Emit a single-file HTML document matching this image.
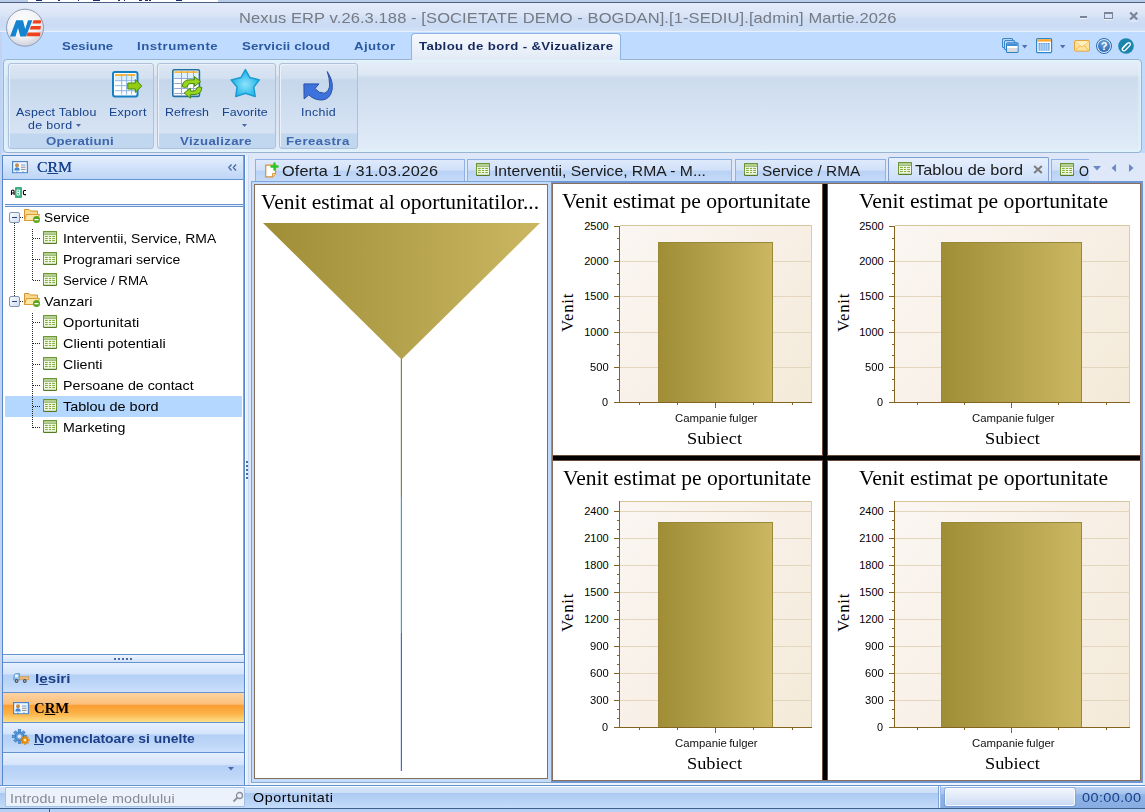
<!DOCTYPE html>
<html><head><meta charset="utf-8"><title>Nexus ERP</title>
<style>
*{box-sizing:border-box;margin:0;padding:0}
html,body{width:1145px;height:812px;overflow:hidden}
body{position:relative;background:#bfdbff;font-family:"Liberation Sans",sans-serif;font-size:13px;color:#000}
.a{position:absolute}
.t{position:absolute;white-space:nowrap;line-height:1}
svg{display:block;overflow:visible}
</style></head><body>
<div class="a" style="left:0;top:0;width:1145px;height:3px;background:#b9cde9"></div>
<div class="a" style="left:28px;top:0;width:190px;height:2px;background:#fff"></div>
<div class="a" style="left:36.3px;top:0;width:5.7px;height:1px;background:#1b2d70"></div><div class="a" style="left:57.9px;top:0;width:2.3px;height:1px;background:#1b2d70"></div><div class="a" style="left:78.3px;top:0;width:1.2px;height:1px;background:#1b2d70"></div><div class="a" style="left:93px;top:0;width:7.0px;height:1px;background:#1b2d70"></div><div class="a" style="left:118px;top:0;width:2.3px;height:1px;background:#1b2d70"></div><div class="a" style="left:123.8px;top:0;width:1.2px;height:1px;background:#1b2d70"></div><div class="a" style="left:138.5px;top:0;width:3.5px;height:1px;background:#1b2d70"></div><div class="a" style="left:145.3px;top:0;width:2.3px;height:1px;background:#1b2d70"></div><div class="a" style="left:148.7px;top:0;width:2.3px;height:1px;background:#1b2d70"></div><div class="a" style="left:176px;top:0;width:5.7px;height:1px;background:#1b2d70"></div>
<div class="a" style="left:0;top:2px;width:1145px;height:1px;background:#4d5f80"></div>
<div class="a" style="left:0;top:3px;width:1145px;height:29px;background:linear-gradient(#e4ecf9 0,#dae5f6 40%,#cfdef4 55%,#cadbf4 80%,#d4e3f8 100%)"></div>
<div class="t" style="left:239.2px;top:10px;font-size:15px;color:#757a83;letter-spacing:0.091px;transform:scaleX(1.1000);transform-origin:0 0;">Nexus ERP v.26.3.188 - [SOCIETATE DEMO - BOGDAN].[1-SEDIU].[admin] Martie.2026</div>
<div class="a" style="left:1080px;top:16px;width:7px;height:2px;background:#7a859b;box-shadow:0 1px 0 #edf2fa"></div>
<div class="a" style="left:1104px;top:12px;width:9px;height:7px;border:1px solid #7a859b;border-top-width:2px;box-shadow:0 1px 0 #edf2fa"></div>
<svg class="a" style="left:1129px;top:12px" width="10" height="9"><path d="M1 9L9 9" stroke="#edf2fa" stroke-width="1"/><path d="M1.2 .5L8.2 7.5M8.2 .5L1.2 7.5" stroke="#7a859b" stroke-width="2.2"/></svg>
<div class="a" style="left:0;top:31px;width:1145px;height:1px;background:#e9f0fb"></div>
<div class="a" style="left:0;top:32px;width:1145px;height:28px;background:#bfdbff"></div>
<div class="t" style="left:61.9px;top:41px;font-size:11.3px;font-weight:bold;color:#2c5aa0;letter-spacing:0.062px;transform:scaleX(1.1700);transform-origin:0 0;">Sesiune</div>
<div class="t" style="left:136.9px;top:41px;font-size:11.3px;font-weight:bold;color:#2c5aa0;letter-spacing:0.426px;transform:scaleX(1.1700);transform-origin:0 0;">Instrumente</div>
<div class="t" style="left:241.9px;top:41px;font-size:11.3px;font-weight:bold;color:#2c5aa0;letter-spacing:0.143px;transform:scaleX(1.1700);transform-origin:0 0;">Servicii cloud</div>
<div class="t" style="left:354.4px;top:41px;font-size:11.3px;font-weight:bold;color:#2c5aa0;letter-spacing:0.378px;transform:scaleX(1.1700);transform-origin:0 0;">Ajutor</div>
<div class="a" style="left:3px;top:59px;width:1139px;height:94px;border:1px solid #9ab3cf;border-radius:4px;box-shadow:inset 0 0 3px 2px rgba(222,243,252,.95);background:linear-gradient(#e6edf8 0,#dde7f4 16%,#cddbee 19%,#d3e0f1 45%,#e2ecf9 100%)"></div>
<div class="a" style="left:411px;top:33px;width:210px;height:27px;border:1px solid #8db2e3;border-bottom:none;border-radius:4px 4px 0 0;background:linear-gradient(#f6f9fe,#e1eaf6)"></div>
<div class="t" style="left:418.9px;top:41px;font-size:11.3px;font-weight:bold;color:#15295c;letter-spacing:0.314px;transform:scaleX(1.1700);transform-origin:0 0;">Tablou de bord - &amp;Vizualizare</div>
<div class="a" style="left:8px;top:63px;width:146px;height:86px;border:1px solid #adc1db;border-radius:3px;background:linear-gradient(#dde7f4 0,#d3e0f0 17%,#c6d7eb 19%,#d6e3f4 82.5%,#c1d7f0 83%,#c1d7f0 100%);box-shadow:inset 1px 1px 0 #eaf1fa"></div>
<div class="t" style="left:46.4px;top:136px;font-size:11.3px;font-weight:bold;color:#3e66ad;letter-spacing:0.145px;transform:scaleX(1.1700);transform-origin:0 0;">Operatiuni</div>
<div class="a" style="left:157px;top:63px;width:119px;height:86px;border:1px solid #adc1db;border-radius:3px;background:linear-gradient(#dde7f4 0,#d3e0f0 17%,#c6d7eb 19%,#d6e3f4 82.5%,#c1d7f0 83%,#c1d7f0 100%);box-shadow:inset 1px 1px 0 #eaf1fa"></div>
<div class="t" style="left:180.1px;top:136px;font-size:11.3px;font-weight:bold;color:#3e66ad;letter-spacing:0.310px;transform:scaleX(1.1700);transform-origin:0 0;">Vizualizare</div>
<div class="a" style="left:279px;top:63px;width:79px;height:86px;border:1px solid #adc1db;border-radius:3px;background:linear-gradient(#dde7f4 0,#d3e0f0 17%,#c6d7eb 19%,#d6e3f4 82.5%,#c1d7f0 83%,#c1d7f0 100%);box-shadow:inset 1px 1px 0 #eaf1fa"></div>
<div class="t" style="left:286.2px;top:136px;font-size:11.3px;font-weight:bold;color:#3e66ad;letter-spacing:0.407px;transform:scaleX(1.1700);transform-origin:0 0;">Fereastra</div>
<div class="t" style="left:15.9px;top:107px;font-size:11.3px;color:#15428b;letter-spacing:0.188px;transform:scaleX(1.1000);transform-origin:0 0;">Aspect Tablou</div>
<div class="t" style="left:27.9px;top:120px;font-size:11.3px;color:#15428b;letter-spacing:0.313px;transform:scaleX(1.1000);transform-origin:0 0;">de bord</div>
<div class="t" style="left:109.1px;top:107px;font-size:11.3px;color:#15428b;letter-spacing:0.274px;transform:scaleX(1.1000);transform-origin:0 0;">Export</div>
<div class="t" style="left:164.8px;top:107px;font-size:11.3px;color:#15428b;letter-spacing:0.062px;transform:scaleX(1.1000);transform-origin:0 0;">Refresh</div>
<div class="t" style="left:222.0px;top:107px;font-size:11.3px;color:#15428b;letter-spacing:0.109px;transform:scaleX(1.1000);transform-origin:0 0;">Favorite</div>
<div class="t" style="left:301.2px;top:107px;font-size:11.3px;color:#15428b;letter-spacing:0.283px;transform:scaleX(1.1000);transform-origin:0 0;">Inchid</div>
<svg class="a" style="left:76px;top:124px" width="6" height="4"><path d="M0 0H5L2.5 3Z" fill="#4a6aa5"/></svg>
<svg class="a" style="left:242px;top:124px" width="6" height="4"><path d="M0 0H5L2.5 3Z" fill="#4a6aa5"/></svg>
<div class="a" style="left:0;top:153px;width:1145px;height:633px;background:#dfe8f9"></div>
<div class="a" style="left:0;top:32px;width:2px;height:780px;background:#c4d2f2"></div>
<div class="a" style="left:2px;top:155px;width:243px;height:631px;border:1px solid #5787cb;background:#fff"></div>
<div class="a" style="left:243px;top:156px;width:1px;height:629px;background:#7ba3df"></div>
<div class="a" style="left:3px;top:156px;width:240px;height:24px;background:linear-gradient(#e4effd 0,#d3e3fa 45%,#bdd5f6 100%);border-bottom:1px solid #6593cf"></div>
<div class="t" style="left:37.0px;top:160px;font-size:15px;font-family:'Liberation Serif',serif;color:#15428b;transform:scaleX(1.0517);transform-origin:0 0;text-shadow:0 0 .4px #15428b;">C<u>R</u>M</div>
<svg class="a" style="left:228px;top:164px" width="9" height="7"><path d="M3.5 .5L.8 3.5L3.5 6.5M8 .5L5.3 3.5L8 6.5" fill="none" stroke="#44659e" stroke-width="1.2"/></svg>
<div class="a" style="left:5px;top:204px;width:238px;height:3px;border-top:1px solid #6593cf;border-bottom:1px solid #6593cf;background:#e4eefb"></div>
<div class="a" style="left:5px;top:396px;width:237px;height:21px;background:#b3d7ff"></div>
<div class="t" style="left:44.3px;top:211px;font-size:13.2px;color:#000;transform:scaleX(1.0395);transform-origin:0 0;">Service</div>
<div class="t" style="left:62.8px;top:232px;font-size:13.2px;color:#000;transform:scaleX(1.0559);transform-origin:0 0;">Interventii, Service, RMA</div>
<div class="t" style="left:62.8px;top:253px;font-size:13.2px;color:#000;transform:scaleX(1.0601);transform-origin:0 0;">Programari service</div>
<div class="t" style="left:62.8px;top:274px;font-size:13.2px;color:#000;transform:scaleX(1.0064);transform-origin:0 0;">Service / RMA</div>
<div class="t" style="left:43.8px;top:295px;font-size:13.2px;color:#000;letter-spacing:0.047px;transform:scaleX(1.1000);transform-origin:0 0;">Vanzari</div>
<div class="t" style="left:62.8px;top:316px;font-size:13.2px;color:#000;letter-spacing:0.109px;transform:scaleX(1.1000);transform-origin:0 0;">Oportunitati</div>
<div class="t" style="left:62.8px;top:337px;font-size:13.2px;color:#000;letter-spacing:0.011px;transform:scaleX(1.1000);transform-origin:0 0;">Clienti potentiali</div>
<div class="t" style="left:62.8px;top:358px;font-size:13.2px;color:#000;transform:scaleX(1.0754);transform-origin:0 0;">Clienti</div>
<div class="t" style="left:62.8px;top:379px;font-size:13.2px;color:#000;transform:scaleX(1.0798);transform-origin:0 0;">Persoane de contact</div>
<div class="t" style="left:62.8px;top:400px;font-size:13.2px;color:#000;transform:scaleX(1.0948);transform-origin:0 0;">Tablou de bord</div>
<div class="t" style="left:62.8px;top:421px;font-size:13.2px;color:#000;transform:scaleX(1.0762);transform-origin:0 0;">Marketing</div>
<div class="a" style="left:3px;top:654px;width:241px;height:8px;border-top:1px solid #6593cf;background:linear-gradient(#eef4fd,#d3e2f8)"></div>
<div class="a" style="left:114px;top:658px;width:18px;height:2px;background:repeating-linear-gradient(90deg,#4a6aa5 0,#4a6aa5 2px,transparent 2px,transparent 4px)"></div>
<div class="a" style="left:3px;top:662px;width:241px;height:31px;border-top:1px solid #6593cf;background:linear-gradient(#e6f0fe 0,#d5e4fb 36%,#b4d0f6 40%,#bdd6f8 70%,#cde1fb 100%)"></div>
<div class="a" style="left:3px;top:692px;width:241px;height:31px;border-top:1px solid #6593cf;background:linear-gradient(#fcd3a2 0,#fbc07a 37%,#fa9d31 42%,#fcb54b 70%,#fee48e 100%)"></div>
<div class="a" style="left:3px;top:722px;width:241px;height:31px;border-top:1px solid #6593cf;background:linear-gradient(#e6f0fe 0,#d5e4fb 36%,#b4d0f6 40%,#bdd6f8 70%,#cde1fb 100%)"></div>
<div class="a" style="left:3px;top:752px;width:241px;height:33px;border-top:1px solid #6593cf;background:linear-gradient(#e6f0fe 0,#d5e4fb 36%,#b4d0f6 40%,#bdd6f8 70%,#cde1fb 100%)"></div>
<div class="t" style="left:34.9px;top:672px;font-size:13px;font-weight:bold;color:#1c3f87;transform:scaleX(1.1687);transform-origin:0 0;">I<u>e</u>siri</div>
<div class="t" style="left:34.0px;top:701px;font-size:15px;font-family:'Liberation Serif',serif;font-weight:bold;color:#000;transform:scaleX(0.9816);transform-origin:0 0;">C<u>R</u>M</div>
<div class="t" style="left:34.4px;top:732px;font-size:13px;font-weight:bold;color:#1c3f87;transform:scaleX(1.0700);transform-origin:0 0;"><u>N</u>omenclatoare si unelte</div>
<svg class="a" style="left:228px;top:767px" width="6" height="4"><path d="M0 0H6L3 3.5Z" fill="#4a6aa5"/></svg>
<div class="a" style="left:245px;top:155px;width:1.3px;height:630px;background:#fbfdff"></div>
<div class="a" style="left:246.3px;top:155px;width:2px;height:630px;background:#e8effb"></div>
<div class="a" style="left:248.2px;top:155px;width:.9px;height:630px;background:#c9dcf6"></div>
<div class="a" style="left:246px;top:461px;width:2px;height:19px;background:repeating-linear-gradient(#4a6aa5 0,#4a6aa5 1.5px,#fff 1.5px,#fff 2.2px,transparent 2.2px,transparent 4.08px)"></div>
<div class="a" style="left:255px;top:159px;width:209.5px;height:23px;border:1px solid #8db2e3;border-bottom:none;background:linear-gradient(#dfeafb 0,#d1e1f9 45%,#b9d2f5 52%,#c6dbf8 100%)"></div>
<div class="a" style="left:466.5px;top:159px;width:265.5px;height:23px;border:1px solid #8db2e3;border-bottom:none;background:linear-gradient(#dfeafb 0,#d1e1f9 45%,#b9d2f5 52%,#c6dbf8 100%)"></div>
<div class="a" style="left:734.5px;top:159px;width:151.0px;height:23px;border:1px solid #8db2e3;border-bottom:none;background:linear-gradient(#dfeafb 0,#d1e1f9 45%,#b9d2f5 52%,#c6dbf8 100%)"></div>
<div class="a" style="left:1051px;top:159px;width:38px;height:23px;border:1px solid #8db2e3;border-bottom:none;border-right:none;background:linear-gradient(#dfeafb 0,#d1e1f9 45%,#b9d2f5 52%,#c6dbf8 100%)"></div>
<div class="a" style="left:251px;top:181px;width:892px;height:602px;border-top:1px solid #7ea3d8;border-left:1px solid #7ea3d8;border-bottom:1px solid #8aa6cc;background:#c1dbfc"></div>
<div class="a" style="left:250px;top:783px;width:893px;height:2px;background:#eef5fe"></div>
<div class="a" style="left:887.5px;top:157px;width:161.5px;height:25px;border:1px solid #7f9fd0;border-bottom:none;border-radius:2px 2px 0 0;background:linear-gradient(#e6effc,#d6e5fa 60%,#cbdef9)"></div>
<div class="t" style="left:282.0px;top:164px;font-size:14.8px;color:#1a1a1a;letter-spacing:0.102px;transform:scaleX(1.1000);transform-origin:0 0;">Oferta 1 / 31.03.2026</div>
<div class="t" style="left:493.8px;top:164px;font-size:14.8px;color:#1a1a1a;transform:scaleX(1.0609);transform-origin:0 0;">Interventii, Service, RMA - M...</div>
<div class="t" style="left:761.6px;top:164px;font-size:14.8px;color:#1a1a1a;transform:scaleX(1.0383);transform-origin:0 0;">Service / RMA</div>
<div class="t" style="left:914.6px;top:163px;font-size:14.8px;color:#1a1a1a;letter-spacing:0.020px;transform:scaleX(1.1000);transform-origin:0 0;">Tablou de bord</div>
<div class="t" style="left:1078.8px;top:164px;font-size:14.8px;color:#1a1a1a;transform:scaleX(0.8600);transform-origin:0 0;">O</div>
<svg class="a" style="left:1033px;top:165px" width="10" height="9"><path d="M1.2 1L8.8 8M8.8 1L1.2 8" stroke="#7d7d7d" stroke-width="2.1"/></svg>
<svg class="a" style="left:1093px;top:166px" width="8" height="5"><path d="M0 0H8L4 4.5Z" fill="#6a8ac4"/></svg>
<svg class="a" style="left:1111px;top:164px" width="5" height="8"><path d="M5 0V8L.5 4Z" fill="#6a8ac4"/></svg>
<svg class="a" style="left:1129px;top:164px" width="5" height="8"><path d="M0 0V8L4.5 4Z" fill="#6a8ac4"/></svg>
<div class="a" style="left:254px;top:184px;width:294px;height:595px;background:#fff;border:1px solid #8a6e5c"></div>
<div class="t" style="left:261.0px;top:192px;font-size:20.3px;font-family:'Liberation Serif',serif;color:#000;transform:scaleX(1.0592);transform-origin:0 0;">Venit estimat al oportunitatilor...</div>
<svg class="a" style="left:254px;top:184px" width="294" height="595"><defs><linearGradient id="fg" x1="0" x2="1"><stop offset="0" stop-color="#a08e37"/><stop offset=".5" stop-color="#b5a24c"/><stop offset="1" stop-color="#cbb762"/></linearGradient></defs><polygon points="9,39 286,39 147.5,175.5" fill="url(#fg)"/><rect x="146.8" y="175" width="1.2" height="138" fill="#6f8a5a"/><rect x="146.8" y="313" width="1.2" height="136" fill="#4f9ab8"/><rect x="146.8" y="449" width="1.2" height="138" fill="#4a66c8"/></svg>
<div class="a" style="left:550.5px;top:181px;width:592.5px;height:601.5px;background:#6c97d4"></div>
<div class="a" style="left:552px;top:183px;width:589px;height:598px;background:#8a6e5c"></div>
<div class="a" style="left:553px;top:184px;width:587px;height:596px;background:#fff"></div>
<div class="a" style="left:822px;top:184px;width:6px;height:596px;background:#000;border-left:1px solid #6a4a3a;border-right:1px solid #6a4a3a"></div>
<div class="a" style="left:553px;top:455px;width:587px;height:6px;background:#000;border-top:1px solid #6a4a3a;border-bottom:1px solid #6a4a3a"></div>
<div class="a" style="left:823px;top:455px;width:4px;height:6px;background:#000"></div>
<div class="t" style="left:562.3px;top:191px;font-size:20.3px;font-family:'Liberation Serif',serif;color:#000;transform:scaleX(1.0632);transform-origin:0 0;">Venit estimat pe oportunitate</div>
<div class="a" style="left:620px;top:225px;width:192px;height:177px;background:linear-gradient(125deg,#fbf6f2 0,#f8f0e7 50%,#f3ead8 100%);border-top:1px solid #d8c49a;border-right:1px solid #dccba8"></div>
<div class="a" style="left:620px;top:261px;width:192px;height:1px;background:#e4d6bd"></div>
<div class="a" style="left:620px;top:296px;width:192px;height:1px;background:#e4d6bd"></div>
<div class="a" style="left:620px;top:332px;width:192px;height:1px;background:#e4d6bd"></div>
<div class="a" style="left:620px;top:367px;width:192px;height:1px;background:#e4d6bd"></div>
<div class="a" style="left:658px;top:242px;width:115px;height:160px;background:linear-gradient(90deg,#a08e37 0,#b5a24c 50%,#cbb762 100%);border:1px solid #9a883a;border-bottom:none"></div>
<div class="a" style="left:619px;top:226px;width:1px;height:177px;background:#82631f"></div>
<div class="a" style="left:619px;top:402px;width:193px;height:1px;background:#82631f"></div>
<div class="a" style="left:614px;top:226px;width:5px;height:1px;background:#82631f"></div>
<div class="t" style="left:584.2px;top:221px;font-size:11px;color:#000;">2500</div>
<div class="a" style="left:617px;top:238px;width:2px;height:1px;background:#82631f"></div>
<div class="a" style="left:617px;top:249px;width:2px;height:1px;background:#82631f"></div>
<div class="a" style="left:614px;top:261px;width:5px;height:1px;background:#82631f"></div>
<div class="t" style="left:584.2px;top:256px;font-size:11px;color:#000;">2000</div>
<div class="a" style="left:617px;top:273px;width:2px;height:1px;background:#82631f"></div>
<div class="a" style="left:617px;top:284px;width:2px;height:1px;background:#82631f"></div>
<div class="a" style="left:614px;top:296px;width:5px;height:1px;background:#82631f"></div>
<div class="t" style="left:584.2px;top:291px;font-size:11px;color:#000;">1500</div>
<div class="a" style="left:617px;top:308px;width:2px;height:1px;background:#82631f"></div>
<div class="a" style="left:617px;top:320px;width:2px;height:1px;background:#82631f"></div>
<div class="a" style="left:614px;top:332px;width:5px;height:1px;background:#82631f"></div>
<div class="t" style="left:584.2px;top:327px;font-size:11px;color:#000;">1000</div>
<div class="a" style="left:617px;top:344px;width:2px;height:1px;background:#82631f"></div>
<div class="a" style="left:617px;top:355px;width:2px;height:1px;background:#82631f"></div>
<div class="a" style="left:614px;top:367px;width:5px;height:1px;background:#82631f"></div>
<div class="t" style="left:589.9px;top:362px;font-size:11px;color:#000;transform:scaleX(1.0158);transform-origin:0 0;">500</div>
<div class="a" style="left:617px;top:379px;width:2px;height:1px;background:#82631f"></div>
<div class="a" style="left:617px;top:390px;width:2px;height:1px;background:#82631f"></div>
<div class="a" style="left:614px;top:402px;width:5px;height:1px;background:#82631f"></div>
<div class="t" style="left:602.0px;top:397px;font-size:11px;color:#000;transform:scaleX(0.9878);transform-origin:0 0;">0</div>
<div class="a" style="left:639px;top:403px;width:1px;height:2px;background:#82631f"></div>
<div class="a" style="left:677px;top:403px;width:1px;height:2px;background:#82631f"></div>
<div class="a" style="left:715px;top:403px;width:1px;height:5px;background:#82631f"></div>
<div class="a" style="left:753px;top:403px;width:1px;height:2px;background:#82631f"></div>
<div class="a" style="left:792px;top:403px;width:1px;height:2px;background:#82631f"></div>
<div class="a" style="left:561px;top:331.7px;width:0;height:0;transform:rotate(-90deg);transform-origin:0 0"><div class="t" style="left:0;top:0;font-family:'Liberation Serif',serif;font-size:16.8px;letter-spacing:.75px;width:36.19999999999999px;text-align:center;line-height:14px;height:14px">Venit</div></div>
<div class="t" style="left:675.2px;top:413px;font-size:10.6px;color:#111;transform:scaleX(1.0746);transform-origin:0 0;">Campanie&#8201;fulger</div>
<div class="t" style="left:687.4px;top:430px;font-size:17px;font-family:'Liberation Serif',serif;color:#000;transform:scaleX(1.0784);transform-origin:0 0;">Subiect</div>
<div class="t" style="left:859.3px;top:191px;font-size:20.3px;font-family:'Liberation Serif',serif;color:#000;transform:scaleX(1.0654);transform-origin:0 0;">Venit estimat pe oportunitate</div>
<div class="a" style="left:895px;top:225px;width:235px;height:177px;background:linear-gradient(125deg,#fbf6f2 0,#f8f0e7 50%,#f3ead8 100%);border-top:1px solid #d8c49a;border-right:1px solid #dccba8"></div>
<div class="a" style="left:895px;top:261px;width:235px;height:1px;background:#e4d6bd"></div>
<div class="a" style="left:895px;top:296px;width:235px;height:1px;background:#e4d6bd"></div>
<div class="a" style="left:895px;top:332px;width:235px;height:1px;background:#e4d6bd"></div>
<div class="a" style="left:895px;top:367px;width:235px;height:1px;background:#e4d6bd"></div>
<div class="a" style="left:941px;top:242px;width:141px;height:160px;background:linear-gradient(90deg,#a08e37 0,#b5a24c 50%,#cbb762 100%);border:1px solid #9a883a;border-bottom:none"></div>
<div class="a" style="left:894px;top:226px;width:1px;height:177px;background:#82631f"></div>
<div class="a" style="left:894px;top:402px;width:236px;height:1px;background:#82631f"></div>
<div class="a" style="left:889px;top:226px;width:5px;height:1px;background:#82631f"></div>
<div class="t" style="left:859.2px;top:221px;font-size:11px;color:#000;">2500</div>
<div class="a" style="left:892px;top:238px;width:2px;height:1px;background:#82631f"></div>
<div class="a" style="left:892px;top:249px;width:2px;height:1px;background:#82631f"></div>
<div class="a" style="left:889px;top:261px;width:5px;height:1px;background:#82631f"></div>
<div class="t" style="left:859.2px;top:256px;font-size:11px;color:#000;">2000</div>
<div class="a" style="left:892px;top:273px;width:2px;height:1px;background:#82631f"></div>
<div class="a" style="left:892px;top:284px;width:2px;height:1px;background:#82631f"></div>
<div class="a" style="left:889px;top:296px;width:5px;height:1px;background:#82631f"></div>
<div class="t" style="left:859.2px;top:291px;font-size:11px;color:#000;">1500</div>
<div class="a" style="left:892px;top:308px;width:2px;height:1px;background:#82631f"></div>
<div class="a" style="left:892px;top:320px;width:2px;height:1px;background:#82631f"></div>
<div class="a" style="left:889px;top:332px;width:5px;height:1px;background:#82631f"></div>
<div class="t" style="left:859.2px;top:327px;font-size:11px;color:#000;">1000</div>
<div class="a" style="left:892px;top:344px;width:2px;height:1px;background:#82631f"></div>
<div class="a" style="left:892px;top:355px;width:2px;height:1px;background:#82631f"></div>
<div class="a" style="left:889px;top:367px;width:5px;height:1px;background:#82631f"></div>
<div class="t" style="left:864.9px;top:362px;font-size:11px;color:#000;transform:scaleX(1.0158);transform-origin:0 0;">500</div>
<div class="a" style="left:892px;top:379px;width:2px;height:1px;background:#82631f"></div>
<div class="a" style="left:892px;top:390px;width:2px;height:1px;background:#82631f"></div>
<div class="a" style="left:889px;top:402px;width:5px;height:1px;background:#82631f"></div>
<div class="t" style="left:877.0px;top:397px;font-size:11px;color:#000;transform:scaleX(0.9878);transform-origin:0 0;">0</div>
<div class="a" style="left:917px;top:403px;width:1px;height:2px;background:#82631f"></div>
<div class="a" style="left:964px;top:403px;width:1px;height:2px;background:#82631f"></div>
<div class="a" style="left:1011px;top:403px;width:1px;height:5px;background:#82631f"></div>
<div class="a" style="left:1058px;top:403px;width:1px;height:2px;background:#82631f"></div>
<div class="a" style="left:1106px;top:403px;width:1px;height:2px;background:#82631f"></div>
<div class="a" style="left:836.5px;top:331.7px;width:0;height:0;transform:rotate(-90deg);transform-origin:0 0"><div class="t" style="left:0;top:0;font-family:'Liberation Serif',serif;font-size:16.8px;letter-spacing:.75px;width:36.19999999999999px;text-align:center;line-height:14px;height:14px">Venit</div></div>
<div class="t" style="left:972.2px;top:413px;font-size:10.6px;color:#111;transform:scaleX(1.0746);transform-origin:0 0;">Campanie&#8201;fulger</div>
<div class="t" style="left:984.6px;top:430px;font-size:17px;font-family:'Liberation Serif',serif;color:#000;transform:scaleX(1.0765);transform-origin:0 0;">Subiect</div>
<div class="t" style="left:562.6px;top:468px;font-size:20.3px;font-family:'Liberation Serif',serif;color:#000;transform:scaleX(1.0611);transform-origin:0 0;">Venit estimat pe oportunitate</div>
<div class="a" style="left:620px;top:501px;width:192px;height:226px;background:linear-gradient(125deg,#fbf6f2 0,#f8f0e7 50%,#f3ead8 100%);border-top:1px solid #d8c49a;border-right:1px solid #dccba8"></div>
<div class="a" style="left:620px;top:511px;width:192px;height:1px;background:#e4d6bd"></div>
<div class="a" style="left:620px;top:538px;width:192px;height:1px;background:#e4d6bd"></div>
<div class="a" style="left:620px;top:565px;width:192px;height:1px;background:#e4d6bd"></div>
<div class="a" style="left:620px;top:592px;width:192px;height:1px;background:#e4d6bd"></div>
<div class="a" style="left:620px;top:619px;width:192px;height:1px;background:#e4d6bd"></div>
<div class="a" style="left:620px;top:646px;width:192px;height:1px;background:#e4d6bd"></div>
<div class="a" style="left:620px;top:673px;width:192px;height:1px;background:#e4d6bd"></div>
<div class="a" style="left:620px;top:700px;width:192px;height:1px;background:#e4d6bd"></div>
<div class="a" style="left:658px;top:522px;width:115px;height:205px;background:linear-gradient(90deg,#a08e37 0,#b5a24c 50%,#cbb762 100%);border:1px solid #9a883a;border-bottom:none"></div>
<div class="a" style="left:619px;top:501px;width:1px;height:227px;background:#82631f"></div>
<div class="a" style="left:619px;top:727px;width:193px;height:1px;background:#82631f"></div>
<div class="a" style="left:614px;top:511px;width:5px;height:1px;background:#82631f"></div>
<div class="t" style="left:584.2px;top:506px;font-size:11px;color:#000;">2400</div>
<div class="a" style="left:617px;top:520px;width:2px;height:1px;background:#82631f"></div>
<div class="a" style="left:617px;top:529px;width:2px;height:1px;background:#82631f"></div>
<div class="a" style="left:614px;top:538px;width:5px;height:1px;background:#82631f"></div>
<div class="t" style="left:584.2px;top:533px;font-size:11px;color:#000;">2100</div>
<div class="a" style="left:617px;top:547px;width:2px;height:1px;background:#82631f"></div>
<div class="a" style="left:617px;top:556px;width:2px;height:1px;background:#82631f"></div>
<div class="a" style="left:614px;top:565px;width:5px;height:1px;background:#82631f"></div>
<div class="t" style="left:584.2px;top:560px;font-size:11px;color:#000;">1800</div>
<div class="a" style="left:617px;top:574px;width:2px;height:1px;background:#82631f"></div>
<div class="a" style="left:617px;top:583px;width:2px;height:1px;background:#82631f"></div>
<div class="a" style="left:614px;top:592px;width:5px;height:1px;background:#82631f"></div>
<div class="t" style="left:584.2px;top:587px;font-size:11px;color:#000;">1500</div>
<div class="a" style="left:617px;top:601px;width:2px;height:1px;background:#82631f"></div>
<div class="a" style="left:617px;top:610px;width:2px;height:1px;background:#82631f"></div>
<div class="a" style="left:614px;top:619px;width:5px;height:1px;background:#82631f"></div>
<div class="t" style="left:584.2px;top:614px;font-size:11px;color:#000;">1200</div>
<div class="a" style="left:617px;top:628px;width:2px;height:1px;background:#82631f"></div>
<div class="a" style="left:617px;top:637px;width:2px;height:1px;background:#82631f"></div>
<div class="a" style="left:614px;top:646px;width:5px;height:1px;background:#82631f"></div>
<div class="t" style="left:589.9px;top:641px;font-size:11px;color:#000;transform:scaleX(1.0158);transform-origin:0 0;">900</div>
<div class="a" style="left:617px;top:655px;width:2px;height:1px;background:#82631f"></div>
<div class="a" style="left:617px;top:664px;width:2px;height:1px;background:#82631f"></div>
<div class="a" style="left:614px;top:673px;width:5px;height:1px;background:#82631f"></div>
<div class="t" style="left:589.9px;top:668px;font-size:11px;color:#000;transform:scaleX(1.0158);transform-origin:0 0;">600</div>
<div class="a" style="left:617px;top:682px;width:2px;height:1px;background:#82631f"></div>
<div class="a" style="left:617px;top:691px;width:2px;height:1px;background:#82631f"></div>
<div class="a" style="left:614px;top:700px;width:5px;height:1px;background:#82631f"></div>
<div class="t" style="left:589.9px;top:695px;font-size:11px;color:#000;transform:scaleX(1.0158);transform-origin:0 0;">300</div>
<div class="a" style="left:617px;top:709px;width:2px;height:1px;background:#82631f"></div>
<div class="a" style="left:617px;top:718px;width:2px;height:1px;background:#82631f"></div>
<div class="a" style="left:614px;top:727px;width:5px;height:1px;background:#82631f"></div>
<div class="t" style="left:602.0px;top:722px;font-size:11px;color:#000;transform:scaleX(0.9878);transform-origin:0 0;">0</div>
<div class="a" style="left:639px;top:728px;width:1px;height:2px;background:#82631f"></div>
<div class="a" style="left:677px;top:728px;width:1px;height:2px;background:#82631f"></div>
<div class="a" style="left:715px;top:728px;width:1px;height:5px;background:#82631f"></div>
<div class="a" style="left:753px;top:728px;width:1px;height:2px;background:#82631f"></div>
<div class="a" style="left:792px;top:728px;width:1px;height:2px;background:#82631f"></div>
<div class="a" style="left:561px;top:632.4px;width:0;height:0;transform:rotate(-90deg);transform-origin:0 0"><div class="t" style="left:0;top:0;font-family:'Liberation Serif',serif;font-size:16.8px;letter-spacing:.75px;width:36.89999999999998px;text-align:center;line-height:14px;height:14px">Venit</div></div>
<div class="t" style="left:675.2px;top:738px;font-size:10.6px;color:#111;transform:scaleX(1.0746);transform-origin:0 0;">Campanie&#8201;fulger</div>
<div class="t" style="left:687.4px;top:755px;font-size:17px;font-family:'Liberation Serif',serif;color:#000;transform:scaleX(1.0784);transform-origin:0 0;">Subiect</div>
<div class="t" style="left:859.3px;top:468px;font-size:20.3px;font-family:'Liberation Serif',serif;color:#000;transform:scaleX(1.0658);transform-origin:0 0;">Venit estimat pe oportunitate</div>
<div class="a" style="left:895px;top:501px;width:235px;height:226px;background:linear-gradient(125deg,#fbf6f2 0,#f8f0e7 50%,#f3ead8 100%);border-top:1px solid #d8c49a;border-right:1px solid #dccba8"></div>
<div class="a" style="left:895px;top:511px;width:235px;height:1px;background:#e4d6bd"></div>
<div class="a" style="left:895px;top:538px;width:235px;height:1px;background:#e4d6bd"></div>
<div class="a" style="left:895px;top:565px;width:235px;height:1px;background:#e4d6bd"></div>
<div class="a" style="left:895px;top:592px;width:235px;height:1px;background:#e4d6bd"></div>
<div class="a" style="left:895px;top:619px;width:235px;height:1px;background:#e4d6bd"></div>
<div class="a" style="left:895px;top:646px;width:235px;height:1px;background:#e4d6bd"></div>
<div class="a" style="left:895px;top:673px;width:235px;height:1px;background:#e4d6bd"></div>
<div class="a" style="left:895px;top:700px;width:235px;height:1px;background:#e4d6bd"></div>
<div class="a" style="left:941px;top:522px;width:141px;height:205px;background:linear-gradient(90deg,#a08e37 0,#b5a24c 50%,#cbb762 100%);border:1px solid #9a883a;border-bottom:none"></div>
<div class="a" style="left:894px;top:501px;width:1px;height:227px;background:#82631f"></div>
<div class="a" style="left:894px;top:727px;width:236px;height:1px;background:#82631f"></div>
<div class="a" style="left:889px;top:511px;width:5px;height:1px;background:#82631f"></div>
<div class="t" style="left:859.2px;top:506px;font-size:11px;color:#000;">2400</div>
<div class="a" style="left:892px;top:520px;width:2px;height:1px;background:#82631f"></div>
<div class="a" style="left:892px;top:529px;width:2px;height:1px;background:#82631f"></div>
<div class="a" style="left:889px;top:538px;width:5px;height:1px;background:#82631f"></div>
<div class="t" style="left:859.2px;top:533px;font-size:11px;color:#000;">2100</div>
<div class="a" style="left:892px;top:547px;width:2px;height:1px;background:#82631f"></div>
<div class="a" style="left:892px;top:556px;width:2px;height:1px;background:#82631f"></div>
<div class="a" style="left:889px;top:565px;width:5px;height:1px;background:#82631f"></div>
<div class="t" style="left:859.2px;top:560px;font-size:11px;color:#000;">1800</div>
<div class="a" style="left:892px;top:574px;width:2px;height:1px;background:#82631f"></div>
<div class="a" style="left:892px;top:583px;width:2px;height:1px;background:#82631f"></div>
<div class="a" style="left:889px;top:592px;width:5px;height:1px;background:#82631f"></div>
<div class="t" style="left:859.2px;top:587px;font-size:11px;color:#000;">1500</div>
<div class="a" style="left:892px;top:601px;width:2px;height:1px;background:#82631f"></div>
<div class="a" style="left:892px;top:610px;width:2px;height:1px;background:#82631f"></div>
<div class="a" style="left:889px;top:619px;width:5px;height:1px;background:#82631f"></div>
<div class="t" style="left:859.2px;top:614px;font-size:11px;color:#000;">1200</div>
<div class="a" style="left:892px;top:628px;width:2px;height:1px;background:#82631f"></div>
<div class="a" style="left:892px;top:637px;width:2px;height:1px;background:#82631f"></div>
<div class="a" style="left:889px;top:646px;width:5px;height:1px;background:#82631f"></div>
<div class="t" style="left:864.9px;top:641px;font-size:11px;color:#000;transform:scaleX(1.0158);transform-origin:0 0;">900</div>
<div class="a" style="left:892px;top:655px;width:2px;height:1px;background:#82631f"></div>
<div class="a" style="left:892px;top:664px;width:2px;height:1px;background:#82631f"></div>
<div class="a" style="left:889px;top:673px;width:5px;height:1px;background:#82631f"></div>
<div class="t" style="left:864.9px;top:668px;font-size:11px;color:#000;transform:scaleX(1.0158);transform-origin:0 0;">600</div>
<div class="a" style="left:892px;top:682px;width:2px;height:1px;background:#82631f"></div>
<div class="a" style="left:892px;top:691px;width:2px;height:1px;background:#82631f"></div>
<div class="a" style="left:889px;top:700px;width:5px;height:1px;background:#82631f"></div>
<div class="t" style="left:864.9px;top:695px;font-size:11px;color:#000;transform:scaleX(1.0158);transform-origin:0 0;">300</div>
<div class="a" style="left:892px;top:709px;width:2px;height:1px;background:#82631f"></div>
<div class="a" style="left:892px;top:718px;width:2px;height:1px;background:#82631f"></div>
<div class="a" style="left:889px;top:727px;width:5px;height:1px;background:#82631f"></div>
<div class="t" style="left:877.0px;top:722px;font-size:11px;color:#000;transform:scaleX(0.9878);transform-origin:0 0;">0</div>
<div class="a" style="left:917px;top:728px;width:1px;height:2px;background:#82631f"></div>
<div class="a" style="left:964px;top:728px;width:1px;height:2px;background:#82631f"></div>
<div class="a" style="left:1011px;top:728px;width:1px;height:5px;background:#82631f"></div>
<div class="a" style="left:1058px;top:728px;width:1px;height:2px;background:#82631f"></div>
<div class="a" style="left:1106px;top:728px;width:1px;height:2px;background:#82631f"></div>
<div class="a" style="left:836.5px;top:632.4px;width:0;height:0;transform:rotate(-90deg);transform-origin:0 0"><div class="t" style="left:0;top:0;font-family:'Liberation Serif',serif;font-size:16.8px;letter-spacing:.75px;width:36.89999999999998px;text-align:center;line-height:14px;height:14px">Venit</div></div>
<div class="t" style="left:972.2px;top:738px;font-size:10.6px;color:#111;transform:scaleX(1.0746);transform-origin:0 0;">Campanie&#8201;fulger</div>
<div class="t" style="left:984.6px;top:755px;font-size:17px;font-family:'Liberation Serif',serif;color:#000;transform:scaleX(1.0765);transform-origin:0 0;">Subiect</div>
<div class="a" style="left:0;top:785px;width:1145px;height:23px;border-top:1px solid #6593cf;background:linear-gradient(#fafcff 0,#fafcff 1px,#d6e4f8 1px,#cddff7 32%,#abc9f2 34%,#c4dcfa 100%)"></div>
<div class="a" style="left:0;top:808px;width:1145px;height:4px;background:#b7d0f5;border-top:1px solid #3f5f90"></div>
<div class="a" style="left:49px;top:809px;width:1px;height:3px;background:#3f5f90"></div>
<div class="a" style="left:5px;top:787px;width:240px;height:20px;border:1px solid #a5c0e6;border-radius:1px;background:#ecf2fc"></div>
<div class="t" style="left:9.8px;top:792px;font-size:13px;color:#858a92;letter-spacing:0.159px;transform:scaleX(1.1000);transform-origin:0 0;">Introdu numele modulului</div>
<svg class="a" style="left:232px;top:791px" width="12" height="12"><circle cx="7.5" cy="4.5" r="3" fill="none" stroke="#8a8f98" stroke-width="1.3"/><path d="M5.3 6.7L1.5 10.5" stroke="#8a8f98" stroke-width="1.8"/></svg>
<div class="t" style="left:252.7px;top:791px;font-size:13px;color:#000;letter-spacing:0.502px;transform:scaleX(1.1000);transform-origin:0 0;">Oportunitati</div>
<div class="a" style="left:941px;top:787px;width:204px;height:21px;background:linear-gradient(#bdd3f4 0,#a9c6ef 30%,#8fb3e6 38%,#86ace2 100%)"></div>
<div class="a" style="left:938px;top:786px;width:3px;height:22px;background:linear-gradient(90deg,#7fa3d6 0,#7fa3d6 34%,#eef4fd 34%,#eef4fd 67%,#9dbbe6 67%)"></div>
<div class="a" style="left:945px;top:788px;width:130px;height:18px;border:1px solid #f6f9fe;border-radius:2px;box-shadow:0 0 0 1px rgba(110,150,205,.55);background:linear-gradient(#f0f5fd,#e2ebf9 45%,#cbdbf4 100%)"></div>
<div class="t" style="left:1082.0px;top:791px;font-size:13.2px;color:#1c3f87;letter-spacing:0.343px;transform:scaleX(1.1000);transform-origin:0 0;">00:00.00</div>
<svg class="a" style="left:0px;top:3px" width="50" height="48"><defs><radialGradient id="og" cx=".45" cy=".35" r=".7"><stop offset="0" stop-color="#fff"/><stop offset=".6" stop-color="#f1f2f5"/><stop offset="1" stop-color="#c7cbd6"/></radialGradient></defs><circle cx="25" cy="24.7" r="18.5" fill="url(#og)" stroke="#8f9bb5" stroke-width="1"/><path d="M10 33.5L16.2 17.3H23L25.2 26L28 17.3H32.4L26 33.5H20.3L18 25L15.5 33.5Z" fill="#1583cf"/><path d="M33.6 17.3H41.4L40.6 20.4H32.4Z M31 23H41L40.3 26.4H29.7Z M27.8 29.4H40.6L39.9 33.2H26.3Z" fill="#f0401c"/></svg>
<svg class="a" style="left:112px;top:71px" width="31" height="27"><rect x="1" y="1" width="24.5" height="24.5" rx="2" fill="#fff" stroke="#1780c2" stroke-width="2"/><rect x="3" y="3" width="20.5" height="2" fill="#ffb637"/><rect x="3" y="5" width="20.5" height="4.5" fill="#d9efff"/><path d="M3 9.7H23.5M3 14.7H23.5M3 19.7H23.5M9.7 3V23.5M14.6 3V23.5M19.6 3V23.5" stroke="#8fb3e2" stroke-width="1" fill="none"/><path d="M15.8 12H23.3V8.6L29.8 15L23.3 21.4V18H15.8Z" fill="#93cc10" stroke="#3c8a0e" stroke-width="1" stroke-linejoin="round"/></svg>
<svg class="a" style="left:172px;top:69px" width="32" height="31"><rect x=".8" y=".8" width="26.6" height="26.6" rx="1.5" fill="#fff" stroke="#22709f" stroke-width="1.6"/><rect x="2.2" y="2.2" width="23.6" height="2" fill="#f5b94a"/><rect x="2.2" y="4.2" width="23.6" height="5" fill="#dcf0ff"/><path d="M2.2 9.5H25.8M2.2 14.5H25.8M2.2 19.5H25.8M2.2 24.5H25.8M9.5 2.2V25.8M15.5 2.2V25.8M21.5 2.2V25.8" stroke="#93a9cf" stroke-width="1" fill="none"/><path d="M10.3 17.8Q10.5 10.8 18 10.8H22.5V7.6L28.6 12.6L22.5 17.4V14.6H18Q15.6 14.8 15.3 17.8Q12.5 19 10.3 17.8Z" fill="#9ad41c" stroke="#3f8a10" stroke-width="1" stroke-linejoin="round"/><path d="M29.8 18.4Q29.6 25.6 22 25.6H18.4V29.2L12.2 24L18.4 19.2V22H22Q24.6 21.8 25 18.6Q27.6 17.4 29.8 18.4Z" fill="#9ad41c" stroke="#3f8a10" stroke-width="1" stroke-linejoin="round"/></svg>
<svg class="a" style="left:230px;top:68px" width="31" height="31"><defs><radialGradient id="sg" cx=".5" cy=".55" r=".5"><stop offset="0" stop-color="#8fe3fa"/><stop offset="1" stop-color="#1fb4ea"/></radialGradient></defs><path d="M15.4 1.6L19.8 9.6L29.4 11.9L23.7 19.1L25.2 28.6L15.4 25.3L5.8 28.6L7.1 19.1L1.2 11.9L11 9.6Z" fill="url(#sg)" stroke="#1a9ad2" stroke-width="1.5" stroke-linejoin="round"/></svg>
<svg class="a" style="left:296px;top:64px" width="42" height="38"><path d="M31.3 7.6Q39.5 20 34.6 30.5Q31 36.3 24.6 36Q17.5 35.6 12.8 30.8L8.1 35L7.9 19.9H22.9L19 24.6Q23 29.6 28.5 29.2Q33.6 27 33.6 20.7Q33.6 14 31.3 7.6Z" fill="#3c72dc" stroke="#2a4fa6" stroke-width="1" stroke-linejoin="round"/></svg>
<svg class="a" style="left:1002px;top:38px" width="17" height="16"><rect x=".6" y=".6" width="10" height="9" rx="1" fill="#dfeefc" stroke="#3f86c8" stroke-width="1.2"/><rect x="2.6" y="2.6" width="10" height="9" rx="1" fill="#dfeefc" stroke="#3f86c8" stroke-width="1.2"/><rect x="4.6" y="4.8" width="11.4" height="9.6" rx="1" fill="#f2f4f6" stroke="#2f7fc4" stroke-width="1.2"/><rect x="5.2" y="5.4" width="10.2" height="2.6" fill="#3f8fd6"/><rect x="5.2" y="8" width="10.2" height="5.8" fill="#d9dcdf"/><rect x="5.2" y="8" width="10.2" height="2" fill="#fff"/></svg>
<svg class="a" style="left:1022px;top:45px" width="6" height="4"><path d="M0 0H5.4L2.7 3.4Z" fill="#4f6fb0"/></svg>
<svg class="a" style="left:1036px;top:38px" width="17" height="16"><rect x=".6" y=".6" width="15" height="14" rx="1" fill="#fff" stroke="#2f86cc" stroke-width="1.2"/><rect x="1.2" y="1.2" width="13.8" height="2.4" fill="#ffa630"/><rect x="2.6" y="5" width="11" height="7.6" fill="#5b9ae0"/><path d="M2.6 7H13.6M2.6 9H13.6M2.6 11H13.6M4.8 5V12.6M7 5V12.6M9.2 5V12.6M11.4 5V12.6" stroke="#dbe9fa" stroke-width=".7"/></svg>
<svg class="a" style="left:1060px;top:45px" width="6" height="4"><path d="M0 0H5.4L2.7 3.4Z" fill="#4f6fb0"/></svg>
<svg class="a" style="left:1074px;top:40px" width="16" height="12"><rect x=".5" y=".5" width="15" height="10.6" rx="1" fill="#ffe39b" stroke="#e9a33a"/><path d="M1 1L8 7L15 1M1 10.6L6 5.6M15 10.6L10 5.6" fill="none" stroke="#f5b64e" stroke-width="1"/><path d="M1.2 1.2L8 6.6L14.8 1.2Z" fill="#fff0c4"/></svg>
<svg class="a" style="left:1096px;top:38px" width="16" height="16"><defs><radialGradient id="hg" cx=".5" cy=".3" r=".8"><stop offset="0" stop-color="#6fa6df"/><stop offset="1" stop-color="#1f62ad"/></radialGradient></defs><circle cx="8" cy="8" r="7.5" fill="#d7e8fa" stroke="#2a6ab0" stroke-width="1"/><circle cx="8" cy="8" r="6" fill="url(#hg)"/><text x="8" y="12" text-anchor="middle" font-family="Liberation Sans,sans-serif" font-weight="bold" font-size="11" fill="#fff">?</text></svg>
<svg class="a" style="left:1118px;top:38px" width="16" height="16"><circle cx="8" cy="8" r="7.8" fill="#1b86ab"/><path d="M4.6 10.6L9.6 5.2Q11 4 12.1 5.2Q13 6.4 11.8 7.6L7.4 12.2Q5.8 13.4 4.6 12.2Q3.6 10.8 4.8 9.6L9 5.4" fill="none" stroke="#fff" stroke-width="1.3" stroke-linecap="round"/></svg>
<svg class="a" style="left:12px;top:161px" width="16" height="13"><rect x=".6" y=".6" width="14.8" height="11" fill="#f4f9ff" stroke="#4d86c6" stroke-width="1.2"/><circle cx="5" cy="4.3" r="2" fill="#c98a4e"/><path d="M2.3 9.5Q2.5 6.3 5 6.3Q7.5 6.3 7.7 9.5Z" fill="#3f86d4"/><rect x="9" y="3.5" width="4.5" height="1" fill="#6c9bd0"/><rect x="9" y="5.7" width="4.5" height="1" fill="#8a8a8a"/><rect x="9" y="7.9" width="4.5" height="1" fill="#8a8a8a"/><path d="M1 11.5h3q1-1.5 2 0h4q1-1.5 2 0h3" fill="none" stroke="#6a9bd6" stroke-width="1"/></svg>
<svg class="a" style="left:11px;top:187px" width="16" height="11"><rect x="4" y="0" width="7" height="11" rx=".8" fill="#3fae84"/><path d="M.5 8V4.2Q.5 3 1.8 3Q3.1 3 3.1 4.2V8M.5 6H3.1" fill="none" stroke="#000" stroke-width="1.1"/><path d="M6 3H8.6V5.4H6ZM6 5.4H8.6V8H6Z" fill="none" stroke="#e8fff6" stroke-width="1"/><path d="M15 3.5H13.4Q12.4 3.5 12.4 4.6V6.6Q12.4 7.6 13.4 7.6H15" fill="none" stroke="#000" stroke-width="1.1"/></svg>
<div class="a" style="left:14px;top:223px;width:1px;height:73px;background:repeating-linear-gradient(#222 0,#222 1px,transparent 1px,transparent 2px)"></div>
<div class="a" style="left:20px;top:217px;width:4px;height:1px;background:repeating-linear-gradient(90deg,#222 0,#222 1px,transparent 1px,transparent 2px)"></div>
<div class="a" style="left:20px;top:301px;width:4px;height:1px;background:repeating-linear-gradient(90deg,#222 0,#222 1px,transparent 1px,transparent 2px)"></div>
<div class="a" style="left:32px;top:229px;width:1px;height:52px;background:repeating-linear-gradient(#222 0,#222 1px,transparent 1px,transparent 2px)"></div>
<div class="a" style="left:32px;top:313px;width:1px;height:115px;background:repeating-linear-gradient(#222 0,#222 1px,transparent 1px,transparent 2px)"></div>
<div class="a" style="left:33px;top:238px;width:8px;height:1px;background:repeating-linear-gradient(90deg,#222 0,#222 1px,transparent 1px,transparent 2px)"></div>
<svg class="a" style="left:43px;top:231px" width="14" height="13"><rect x="0" y="0" width="14" height="13" rx="1.2" fill="#557a24"/><rect x="0" y="0" width="14" height="11" rx="1.2" fill="#6d9636"/><rect x="1" y="1" width="12" height="2" fill="#b4cf92"/><rect x="1" y="3.6" width="12" height="8.2" fill="#f3f8e8"/><rect x="2" y="4.90" width="2.8" height="1.1" fill="#86b040"/><rect x="5.9" y="4.90" width="2.2" height="1.1" fill="#86b040"/><rect x="9.2" y="4.90" width="2.8" height="1.1" fill="#86b040"/><rect x="2" y="6.95" width="2.8" height="1.1" fill="#86b040"/><rect x="5.9" y="6.95" width="2.2" height="1.1" fill="#86b040"/><rect x="9.2" y="6.95" width="2.8" height="1.1" fill="#86b040"/><rect x="2" y="9.00" width="2.8" height="1.1" fill="#86b040"/><rect x="5.9" y="9.00" width="2.2" height="1.1" fill="#86b040"/><rect x="9.2" y="9.00" width="2.8" height="1.1" fill="#86b040"/></svg>
<div class="a" style="left:33px;top:259px;width:8px;height:1px;background:repeating-linear-gradient(90deg,#222 0,#222 1px,transparent 1px,transparent 2px)"></div>
<svg class="a" style="left:43px;top:252px" width="14" height="13"><rect x="0" y="0" width="14" height="13" rx="1.2" fill="#557a24"/><rect x="0" y="0" width="14" height="11" rx="1.2" fill="#6d9636"/><rect x="1" y="1" width="12" height="2" fill="#b4cf92"/><rect x="1" y="3.6" width="12" height="8.2" fill="#f3f8e8"/><rect x="2" y="4.90" width="2.8" height="1.1" fill="#86b040"/><rect x="5.9" y="4.90" width="2.2" height="1.1" fill="#86b040"/><rect x="9.2" y="4.90" width="2.8" height="1.1" fill="#86b040"/><rect x="2" y="6.95" width="2.8" height="1.1" fill="#86b040"/><rect x="5.9" y="6.95" width="2.2" height="1.1" fill="#86b040"/><rect x="9.2" y="6.95" width="2.8" height="1.1" fill="#86b040"/><rect x="2" y="9.00" width="2.8" height="1.1" fill="#86b040"/><rect x="5.9" y="9.00" width="2.2" height="1.1" fill="#86b040"/><rect x="9.2" y="9.00" width="2.8" height="1.1" fill="#86b040"/></svg>
<div class="a" style="left:33px;top:280px;width:8px;height:1px;background:repeating-linear-gradient(90deg,#222 0,#222 1px,transparent 1px,transparent 2px)"></div>
<svg class="a" style="left:43px;top:273px" width="14" height="13"><rect x="0" y="0" width="14" height="13" rx="1.2" fill="#557a24"/><rect x="0" y="0" width="14" height="11" rx="1.2" fill="#6d9636"/><rect x="1" y="1" width="12" height="2" fill="#b4cf92"/><rect x="1" y="3.6" width="12" height="8.2" fill="#f3f8e8"/><rect x="2" y="4.90" width="2.8" height="1.1" fill="#86b040"/><rect x="5.9" y="4.90" width="2.2" height="1.1" fill="#86b040"/><rect x="9.2" y="4.90" width="2.8" height="1.1" fill="#86b040"/><rect x="2" y="6.95" width="2.8" height="1.1" fill="#86b040"/><rect x="5.9" y="6.95" width="2.2" height="1.1" fill="#86b040"/><rect x="9.2" y="6.95" width="2.8" height="1.1" fill="#86b040"/><rect x="2" y="9.00" width="2.8" height="1.1" fill="#86b040"/><rect x="5.9" y="9.00" width="2.2" height="1.1" fill="#86b040"/><rect x="9.2" y="9.00" width="2.8" height="1.1" fill="#86b040"/></svg>
<div class="a" style="left:33px;top:322px;width:8px;height:1px;background:repeating-linear-gradient(90deg,#222 0,#222 1px,transparent 1px,transparent 2px)"></div>
<svg class="a" style="left:43px;top:315px" width="14" height="13"><rect x="0" y="0" width="14" height="13" rx="1.2" fill="#557a24"/><rect x="0" y="0" width="14" height="11" rx="1.2" fill="#6d9636"/><rect x="1" y="1" width="12" height="2" fill="#b4cf92"/><rect x="1" y="3.6" width="12" height="8.2" fill="#f3f8e8"/><rect x="2" y="4.90" width="2.8" height="1.1" fill="#86b040"/><rect x="5.9" y="4.90" width="2.2" height="1.1" fill="#86b040"/><rect x="9.2" y="4.90" width="2.8" height="1.1" fill="#86b040"/><rect x="2" y="6.95" width="2.8" height="1.1" fill="#86b040"/><rect x="5.9" y="6.95" width="2.2" height="1.1" fill="#86b040"/><rect x="9.2" y="6.95" width="2.8" height="1.1" fill="#86b040"/><rect x="2" y="9.00" width="2.8" height="1.1" fill="#86b040"/><rect x="5.9" y="9.00" width="2.2" height="1.1" fill="#86b040"/><rect x="9.2" y="9.00" width="2.8" height="1.1" fill="#86b040"/></svg>
<div class="a" style="left:33px;top:343px;width:8px;height:1px;background:repeating-linear-gradient(90deg,#222 0,#222 1px,transparent 1px,transparent 2px)"></div>
<svg class="a" style="left:43px;top:336px" width="14" height="13"><rect x="0" y="0" width="14" height="13" rx="1.2" fill="#557a24"/><rect x="0" y="0" width="14" height="11" rx="1.2" fill="#6d9636"/><rect x="1" y="1" width="12" height="2" fill="#b4cf92"/><rect x="1" y="3.6" width="12" height="8.2" fill="#f3f8e8"/><rect x="2" y="4.90" width="2.8" height="1.1" fill="#86b040"/><rect x="5.9" y="4.90" width="2.2" height="1.1" fill="#86b040"/><rect x="9.2" y="4.90" width="2.8" height="1.1" fill="#86b040"/><rect x="2" y="6.95" width="2.8" height="1.1" fill="#86b040"/><rect x="5.9" y="6.95" width="2.2" height="1.1" fill="#86b040"/><rect x="9.2" y="6.95" width="2.8" height="1.1" fill="#86b040"/><rect x="2" y="9.00" width="2.8" height="1.1" fill="#86b040"/><rect x="5.9" y="9.00" width="2.2" height="1.1" fill="#86b040"/><rect x="9.2" y="9.00" width="2.8" height="1.1" fill="#86b040"/></svg>
<div class="a" style="left:33px;top:364px;width:8px;height:1px;background:repeating-linear-gradient(90deg,#222 0,#222 1px,transparent 1px,transparent 2px)"></div>
<svg class="a" style="left:43px;top:357px" width="14" height="13"><rect x="0" y="0" width="14" height="13" rx="1.2" fill="#557a24"/><rect x="0" y="0" width="14" height="11" rx="1.2" fill="#6d9636"/><rect x="1" y="1" width="12" height="2" fill="#b4cf92"/><rect x="1" y="3.6" width="12" height="8.2" fill="#f3f8e8"/><rect x="2" y="4.90" width="2.8" height="1.1" fill="#86b040"/><rect x="5.9" y="4.90" width="2.2" height="1.1" fill="#86b040"/><rect x="9.2" y="4.90" width="2.8" height="1.1" fill="#86b040"/><rect x="2" y="6.95" width="2.8" height="1.1" fill="#86b040"/><rect x="5.9" y="6.95" width="2.2" height="1.1" fill="#86b040"/><rect x="9.2" y="6.95" width="2.8" height="1.1" fill="#86b040"/><rect x="2" y="9.00" width="2.8" height="1.1" fill="#86b040"/><rect x="5.9" y="9.00" width="2.2" height="1.1" fill="#86b040"/><rect x="9.2" y="9.00" width="2.8" height="1.1" fill="#86b040"/></svg>
<div class="a" style="left:33px;top:385px;width:8px;height:1px;background:repeating-linear-gradient(90deg,#222 0,#222 1px,transparent 1px,transparent 2px)"></div>
<svg class="a" style="left:43px;top:378px" width="14" height="13"><rect x="0" y="0" width="14" height="13" rx="1.2" fill="#557a24"/><rect x="0" y="0" width="14" height="11" rx="1.2" fill="#6d9636"/><rect x="1" y="1" width="12" height="2" fill="#b4cf92"/><rect x="1" y="3.6" width="12" height="8.2" fill="#f3f8e8"/><rect x="2" y="4.90" width="2.8" height="1.1" fill="#86b040"/><rect x="5.9" y="4.90" width="2.2" height="1.1" fill="#86b040"/><rect x="9.2" y="4.90" width="2.8" height="1.1" fill="#86b040"/><rect x="2" y="6.95" width="2.8" height="1.1" fill="#86b040"/><rect x="5.9" y="6.95" width="2.2" height="1.1" fill="#86b040"/><rect x="9.2" y="6.95" width="2.8" height="1.1" fill="#86b040"/><rect x="2" y="9.00" width="2.8" height="1.1" fill="#86b040"/><rect x="5.9" y="9.00" width="2.2" height="1.1" fill="#86b040"/><rect x="9.2" y="9.00" width="2.8" height="1.1" fill="#86b040"/></svg>
<div class="a" style="left:33px;top:406px;width:8px;height:1px;background:repeating-linear-gradient(90deg,#222 0,#222 1px,transparent 1px,transparent 2px)"></div>
<svg class="a" style="left:43px;top:399px" width="14" height="13"><rect x="0" y="0" width="14" height="13" rx="1.2" fill="#557a24"/><rect x="0" y="0" width="14" height="11" rx="1.2" fill="#6d9636"/><rect x="1" y="1" width="12" height="2" fill="#b4cf92"/><rect x="1" y="3.6" width="12" height="8.2" fill="#f3f8e8"/><rect x="2" y="4.90" width="2.8" height="1.1" fill="#86b040"/><rect x="5.9" y="4.90" width="2.2" height="1.1" fill="#86b040"/><rect x="9.2" y="4.90" width="2.8" height="1.1" fill="#86b040"/><rect x="2" y="6.95" width="2.8" height="1.1" fill="#86b040"/><rect x="5.9" y="6.95" width="2.2" height="1.1" fill="#86b040"/><rect x="9.2" y="6.95" width="2.8" height="1.1" fill="#86b040"/><rect x="2" y="9.00" width="2.8" height="1.1" fill="#86b040"/><rect x="5.9" y="9.00" width="2.2" height="1.1" fill="#86b040"/><rect x="9.2" y="9.00" width="2.8" height="1.1" fill="#86b040"/></svg>
<div class="a" style="left:33px;top:427px;width:8px;height:1px;background:repeating-linear-gradient(90deg,#222 0,#222 1px,transparent 1px,transparent 2px)"></div>
<svg class="a" style="left:43px;top:420px" width="14" height="13"><rect x="0" y="0" width="14" height="13" rx="1.2" fill="#557a24"/><rect x="0" y="0" width="14" height="11" rx="1.2" fill="#6d9636"/><rect x="1" y="1" width="12" height="2" fill="#b4cf92"/><rect x="1" y="3.6" width="12" height="8.2" fill="#f3f8e8"/><rect x="2" y="4.90" width="2.8" height="1.1" fill="#86b040"/><rect x="5.9" y="4.90" width="2.2" height="1.1" fill="#86b040"/><rect x="9.2" y="4.90" width="2.8" height="1.1" fill="#86b040"/><rect x="2" y="6.95" width="2.8" height="1.1" fill="#86b040"/><rect x="5.9" y="6.95" width="2.2" height="1.1" fill="#86b040"/><rect x="9.2" y="6.95" width="2.8" height="1.1" fill="#86b040"/><rect x="2" y="9.00" width="2.8" height="1.1" fill="#86b040"/><rect x="5.9" y="9.00" width="2.2" height="1.1" fill="#86b040"/><rect x="9.2" y="9.00" width="2.8" height="1.1" fill="#86b040"/></svg>
<svg class="a" style="left:9px;top:212px" width="11" height="11"><defs><linearGradient id="eg" x1="0" y1="0" x2="1" y2="1"><stop offset="0" stop-color="#fdfeff"/><stop offset="1" stop-color="#cfdbf0"/></linearGradient></defs><rect x=".5" y=".5" width="10" height="10" rx="1.5" fill="url(#eg)" stroke="#8494b2"/><rect x="3" y="5" width="5" height="1" fill="#28457c"/></svg>
<svg class="a" style="left:9px;top:296px" width="11" height="11"><defs><linearGradient id="eg" x1="0" y1="0" x2="1" y2="1"><stop offset="0" stop-color="#fdfeff"/><stop offset="1" stop-color="#cfdbf0"/></linearGradient></defs><rect x=".5" y=".5" width="10" height="10" rx="1.5" fill="url(#eg)" stroke="#8494b2"/><rect x="3" y="5" width="5" height="1" fill="#28457c"/></svg>
<svg class="a" style="left:24px;top:207.6px" width="17" height="16"><path d="M.5 1.5H5L6.5 3H13.5V12.5H.5Z" fill="#f7d98b" stroke="#d9922e"/><path d="M2.5 6.5H15.5L13.5 12.5H.5Z" fill="#fbe7a8" stroke="#dc9a36"/><circle cx="12.5" cy="11.6" r="3.5" fill="#58a81e"/><rect x="10.5" y="11" width="4" height="1.3" fill="#fff"/></svg>
<svg class="a" style="left:24px;top:291.6px" width="17" height="16"><path d="M.5 1.5H5L6.5 3H13.5V12.5H.5Z" fill="#f7d98b" stroke="#d9922e"/><path d="M2.5 6.5H15.5L13.5 12.5H.5Z" fill="#fbe7a8" stroke="#dc9a36"/><circle cx="12.5" cy="11.6" r="3.5" fill="#58a81e"/><rect x="10.5" y="11" width="4" height="1.3" fill="#fff"/></svg>
<svg class="a" style="left:13px;top:673px" width="17" height="11"><path d="M1 3Q1 .5 3.5 .5H6.5V7H.8V4Z" fill="#8fbfe6" stroke="#5a8fc4" stroke-width=".8"/><rect x="2" y="1.6" width="3" height="2.6" fill="#e9f5ff"/><rect x="6.6" y="3.4" width="9.2" height="3.4" fill="#e9b878" stroke="#c99450" stroke-width=".6"/><circle cx="3.6" cy="8" r="1.9" fill="#4a5260"/><circle cx="3.6" cy="8" r=".8" fill="#d0d6e0"/><circle cx="11.8" cy="8" r="1.9" fill="#4a5260"/><circle cx="11.8" cy="8" r=".8" fill="#d0d6e0"/></svg>
<svg class="a" style="left:13px;top:702px" width="16" height="13"><rect x=".6" y=".6" width="14.8" height="11" fill="#f4f9ff" stroke="#4d86c6" stroke-width="1.2"/><circle cx="5" cy="4.3" r="2" fill="#c98a4e"/><path d="M2.3 9.5Q2.5 6.3 5 6.3Q7.5 6.3 7.7 9.5Z" fill="#3f86d4"/><rect x="9" y="3.5" width="4.5" height="1" fill="#6c9bd0"/><rect x="9" y="5.7" width="4.5" height="1" fill="#8a8a8a"/><rect x="9" y="7.9" width="4.5" height="1" fill="#8a8a8a"/><path d="M1 11.5h3q1-1.5 2 0h4q1-1.5 2 0h3" fill="none" stroke="#6a9bd6" stroke-width="1"/></svg>
<svg class="a" style="left:13px;top:729px" width="17" height="17"><g fill="#5a9ad8" stroke="#2f72b8" stroke-width=".6"><circle cx="6.5" cy="7.5" r="4.6"/><rect x="10.80" y="6.20" width="2.6" height="2.6" transform="rotate(0 12.10 7.50)"/><rect x="9.16" y="10.16" width="2.6" height="2.6" transform="rotate(45 10.46 11.46)"/><rect x="5.20" y="11.80" width="2.6" height="2.6" transform="rotate(90 6.50 13.10)"/><rect x="1.24" y="10.16" width="2.6" height="2.6" transform="rotate(135 2.54 11.46)"/><rect x="-0.40" y="6.20" width="2.6" height="2.6" transform="rotate(180 0.90 7.50)"/><rect x="1.24" y="2.24" width="2.6" height="2.6" transform="rotate(225 2.54 3.54)"/><rect x="5.20" y="0.60" width="2.6" height="2.6" transform="rotate(270 6.50 1.90)"/><rect x="9.16" y="2.24" width="2.6" height="2.6" transform="rotate(315 10.46 3.54)"/></g><circle cx="6.5" cy="7.5" r="2" fill="#d6e6fa"/><g fill="#f5a21c" stroke="#d07e10" stroke-width=".5"><circle cx="12" cy="11.2" r="2.8"/><rect x="14.60" y="10.40" width="1.6" height="1.6"/><rect x="13.60" y="12.80" width="1.6" height="1.6"/><rect x="11.20" y="13.80" width="1.6" height="1.6"/><rect x="8.80" y="12.80" width="1.6" height="1.6"/><rect x="7.80" y="10.40" width="1.6" height="1.6"/><rect x="8.80" y="8.00" width="1.6" height="1.6"/><rect x="11.20" y="7.00" width="1.6" height="1.6"/><rect x="13.60" y="8.00" width="1.6" height="1.6"/></g><circle cx="12" cy="11.2" r="1.1" fill="#fff2c8"/></svg>
<svg class="a" style="left:265px;top:164px" width="14" height="14"><path d="M.7 1.2H10.5V9.5L7.5 12.8H.7Z" fill="#fff" stroke="#d9922e" stroke-width="1.2"/><path d="M7.5 12.8V9.5H10.5" fill="#ffe9a0" stroke="#d9922e" stroke-width=".9"/><path d="M9.5 -.6V5.6M6.4 2.5H12.6" stroke="#2ec528" stroke-width="2.4" stroke-linecap="round"/></svg>
<svg class="a" style="left:476px;top:163px" width="14" height="13"><rect x="0" y="0" width="14" height="13" rx="1.2" fill="#557a24"/><rect x="0" y="0" width="14" height="11" rx="1.2" fill="#6d9636"/><rect x="1" y="1" width="12" height="2" fill="#b4cf92"/><rect x="1" y="3.6" width="12" height="8.2" fill="#f3f8e8"/><rect x="2" y="4.90" width="2.8" height="1.1" fill="#86b040"/><rect x="5.9" y="4.90" width="2.2" height="1.1" fill="#86b040"/><rect x="9.2" y="4.90" width="2.8" height="1.1" fill="#86b040"/><rect x="2" y="6.95" width="2.8" height="1.1" fill="#86b040"/><rect x="5.9" y="6.95" width="2.2" height="1.1" fill="#86b040"/><rect x="9.2" y="6.95" width="2.8" height="1.1" fill="#86b040"/><rect x="2" y="9.00" width="2.8" height="1.1" fill="#86b040"/><rect x="5.9" y="9.00" width="2.2" height="1.1" fill="#86b040"/><rect x="9.2" y="9.00" width="2.8" height="1.1" fill="#86b040"/></svg>
<svg class="a" style="left:744px;top:163px" width="14" height="13"><rect x="0" y="0" width="14" height="13" rx="1.2" fill="#557a24"/><rect x="0" y="0" width="14" height="11" rx="1.2" fill="#6d9636"/><rect x="1" y="1" width="12" height="2" fill="#b4cf92"/><rect x="1" y="3.6" width="12" height="8.2" fill="#f3f8e8"/><rect x="2" y="4.90" width="2.8" height="1.1" fill="#86b040"/><rect x="5.9" y="4.90" width="2.2" height="1.1" fill="#86b040"/><rect x="9.2" y="4.90" width="2.8" height="1.1" fill="#86b040"/><rect x="2" y="6.95" width="2.8" height="1.1" fill="#86b040"/><rect x="5.9" y="6.95" width="2.2" height="1.1" fill="#86b040"/><rect x="9.2" y="6.95" width="2.8" height="1.1" fill="#86b040"/><rect x="2" y="9.00" width="2.8" height="1.1" fill="#86b040"/><rect x="5.9" y="9.00" width="2.2" height="1.1" fill="#86b040"/><rect x="9.2" y="9.00" width="2.8" height="1.1" fill="#86b040"/></svg>
<svg class="a" style="left:897.5px;top:162px" width="14" height="13"><rect x="0" y="0" width="14" height="13" rx="1.2" fill="#557a24"/><rect x="0" y="0" width="14" height="11" rx="1.2" fill="#6d9636"/><rect x="1" y="1" width="12" height="2" fill="#b4cf92"/><rect x="1" y="3.6" width="12" height="8.2" fill="#f3f8e8"/><rect x="2" y="4.90" width="2.8" height="1.1" fill="#86b040"/><rect x="5.9" y="4.90" width="2.2" height="1.1" fill="#86b040"/><rect x="9.2" y="4.90" width="2.8" height="1.1" fill="#86b040"/><rect x="2" y="6.95" width="2.8" height="1.1" fill="#86b040"/><rect x="5.9" y="6.95" width="2.2" height="1.1" fill="#86b040"/><rect x="9.2" y="6.95" width="2.8" height="1.1" fill="#86b040"/><rect x="2" y="9.00" width="2.8" height="1.1" fill="#86b040"/><rect x="5.9" y="9.00" width="2.2" height="1.1" fill="#86b040"/><rect x="9.2" y="9.00" width="2.8" height="1.1" fill="#86b040"/></svg>
<svg class="a" style="left:1060px;top:163px" width="14" height="13"><rect x="0" y="0" width="14" height="13" rx="1.2" fill="#557a24"/><rect x="0" y="0" width="14" height="11" rx="1.2" fill="#6d9636"/><rect x="1" y="1" width="12" height="2" fill="#b4cf92"/><rect x="1" y="3.6" width="12" height="8.2" fill="#f3f8e8"/><rect x="2" y="4.90" width="2.8" height="1.1" fill="#86b040"/><rect x="5.9" y="4.90" width="2.2" height="1.1" fill="#86b040"/><rect x="9.2" y="4.90" width="2.8" height="1.1" fill="#86b040"/><rect x="2" y="6.95" width="2.8" height="1.1" fill="#86b040"/><rect x="5.9" y="6.95" width="2.2" height="1.1" fill="#86b040"/><rect x="9.2" y="6.95" width="2.8" height="1.1" fill="#86b040"/><rect x="2" y="9.00" width="2.8" height="1.1" fill="#86b040"/><rect x="5.9" y="9.00" width="2.2" height="1.1" fill="#86b040"/><rect x="9.2" y="9.00" width="2.8" height="1.1" fill="#86b040"/></svg>
</body></html>
